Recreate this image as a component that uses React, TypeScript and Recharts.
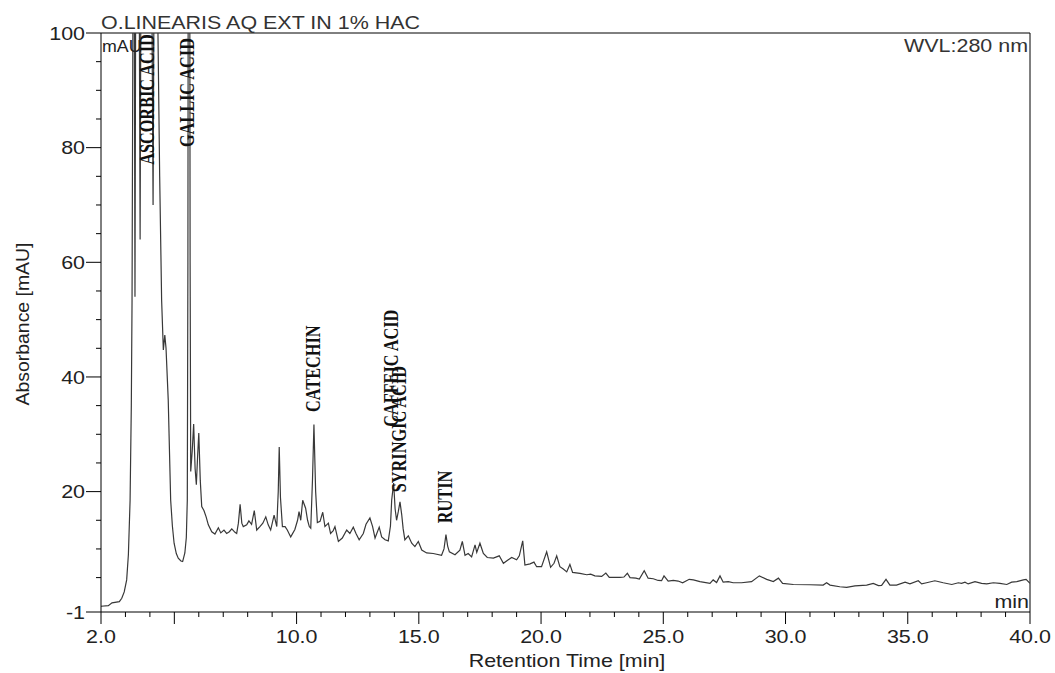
import { ComposedChart, Line, Scatter, XAxis, YAxis, ReferenceLine } from "recharts";

// retention time (min) / absorbance (mAU)
const rtMin = [
  2.0, 2.3, 2.45, 2.75, 2.85, 2.95, 3.05, 3.12, 3.19, 3.24, 3.27, 3.3, 3.33, 3.36, 3.39, 3.42, 3.48, 3.55, 3.6, 3.64,
  3.75, 3.9, 4.02, 4.09, 4.13, 4.17, 4.25, 4.33, 4.4, 4.48, 4.55, 4.61, 4.66, 4.75, 4.85, 4.92, 4.99, 5.08, 5.16, 5.27,
  5.34, 5.43, 5.49, 5.53, 5.555, 5.575, 5.62, 5.645, 5.67, 5.73, 5.79, 5.85, 5.9, 5.95, 6.0, 6.06, 6.12, 6.21, 6.3, 6.39,
  6.53, 6.66, 6.8, 6.9, 7.03, 7.14, 7.25, 7.35, 7.48, 7.55, 7.62, 7.69, 7.76, 7.82, 7.96, 8.05, 8.16, 8.27, 8.37, 8.5,
  8.62, 8.74, 8.84, 8.94, 9.08, 9.19, 9.25, 9.29, 9.34, 9.42, 9.53, 9.62, 9.76, 9.93, 10.04, 10.1, 10.17, 10.25, 10.37, 10.45,
  10.52, 10.58, 10.65, 10.71, 10.78, 10.85, 10.96, 11.07, 11.16, 11.3, 11.39, 11.5, 11.57, 11.71, 11.87, 12.05, 12.18, 12.32, 12.43, 12.56,
  12.73, 12.84, 13.0, 13.11, 13.21, 13.38, 13.48, 13.62, 13.75, 13.84, 13.89, 13.97, 14.03, 14.09, 14.16, 14.23, 14.3, 14.36, 14.43, 14.57,
  14.71, 14.84, 14.98, 15.12, 15.32, 15.59, 15.93, 16.03, 16.11, 16.18, 16.25, 16.48, 16.68, 16.78, 16.89, 17.02, 17.16, 17.3, 17.37, 17.5,
  17.64, 17.8, 18.05, 18.29, 18.46, 18.66, 18.8, 19.0, 19.11, 19.25, 19.34, 19.55, 19.71, 19.82, 20.02, 20.23, 20.39, 20.53, 20.64, 20.77,
  20.91, 21.05, 21.18, 21.29, 21.59, 21.87, 22.03, 22.2, 22.48, 22.65, 22.79, 23.23, 23.39, 23.53, 23.64, 23.88, 24.02, 24.22, 24.38, 24.59,
  24.79, 24.93, 25.03, 25.2, 25.41, 25.61, 25.79, 26.06, 26.23, 26.5, 26.91, 27.04, 27.18, 27.32, 27.45, 27.66, 27.86, 28.2, 28.61, 28.93,
  29.23, 29.5, 29.71, 29.88, 30.32, 31.0, 31.54, 31.68, 31.82, 32.22, 32.5, 32.84, 33.32, 33.59, 33.8, 33.93, 34.11, 34.27, 34.54, 34.89,
  35.09, 35.43, 35.57, 35.77, 36.11, 36.45, 36.8, 37.07, 37.2, 37.34, 37.47, 37.75, 38.02, 38.23, 38.5, 38.77, 39.05, 39.25, 39.46, 39.73,
  39.84, 40.0,
];
const absMau = [
  0.0, 0.1, 0.6, 0.8, 1.4, 2.5, 4.6, 9, 18.5, 35, 53.4, 95, 140, 110, 54, 110, 150, 125, 64, 120,
  165, 160, 130, 100, 70, 110, 130, 100, 75, 53.4, 44.7, 47.3, 45, 36, 18.5, 14, 11, 9.2, 8.4, 7.9,
  7.8, 9.3, 12, 18.5, 60, 150, 150, 60, 23.5, 27, 31.8, 24, 21.2, 26, 30.2, 22, 17.4, 16.7, 15.6, 14.2,
  13.0, 12.6, 13.7, 12.8, 13.3, 12.7, 13.0, 13.5, 12.9, 12.7, 14.5, 17.8, 14.5, 13.9, 14.2, 14.9, 14.3, 16.7, 13.3, 13.9,
  14.5, 15.6, 14.2, 13.3, 15.9, 13.9, 20, 27.8, 19, 13.9, 13.9, 13.3, 12.1, 13.4, 15, 16.5, 15.0, 18.5, 17.1, 15,
  13.9, 13.6, 22, 31.7, 20, 14.6, 14.8, 16.4, 13.9, 14.5, 12.7, 13.2, 13.9, 11.3, 11.9, 13.3, 12.7, 13.8, 12.7, 11.6,
  12.7, 14.3, 15.4, 13.9, 11.9, 13.8, 12.1, 11.6, 11.4, 14, 18.5, 21.5, 17, 15, 16.5, 18.2, 16, 13.5, 11.6, 12.3,
  11.0, 10.4, 11.3, 9.8, 9.3, 9.2, 8.9, 10, 12.5, 10.5, 9.5, 9.0, 9.8, 11.3, 8.9, 9.2, 8.6, 10.7, 9.4, 11.0,
  9.2, 8.5, 8.4, 8.8, 7.5, 8.1, 8.5, 8.1, 8.8, 11.4, 7.2, 7.4, 7.7, 6.9, 6.9, 9.5, 6.8, 7.5, 8.8, 6.9,
  6.5, 6.0, 7.3, 5.9, 5.75, 5.5, 5.6, 5.3, 5.2, 5.8, 5.05, 5.05, 5.1, 5.75, 5.0, 4.9, 4.75, 6.2, 4.9, 4.8,
  4.5, 4.46, 5.3, 4.4, 4.5, 4.4, 4.1, 4.7, 4.6, 4.3, 4.0, 4.6, 4.15, 5.3, 4.2, 4.3, 4.1, 4.1, 4.3, 5.3,
  4.7, 4.3, 4.9, 4.0, 3.8, 3.75, 3.7, 4.1, 3.7, 3.4, 3.3, 3.55, 3.7, 4.0, 3.6, 3.65, 4.7, 3.7, 3.7, 4.2,
  3.9, 4.45, 3.9, 4.1, 4.45, 4.1, 3.8, 4.1, 4.0, 4.2, 3.9, 4.3, 4.0, 3.9, 4.1, 4.0, 3.8, 4.2, 4.3, 4.6,
  4.7, 4.0,
];

// peak annotations: name, retention time, mAU level where the tag starts
const peakNames = ["ASCORBIC ACID", "GALLIC ACID", "CATECHIN", "CAFFEIC ACID", "SYRINGIC ACID", "RUTIN"];
const peakRt = [3.87, 5.48, 10.65, 13.85, 14.18, 16.07];
const peakTagAt = [77, 80.1, 33.9, 31.3, 19.9, 14.5];

const xMajorTicks = [2, 5, 10, 15, 20, 25, 30, 35, 40];
const xLabelTicks = [2, 10, 15, 20, 25, 30, 35, 40];
const xTicks = Array.from({ length: 39 }, (_, i) => i + 2);
const yLabelTicks = [-1, 20, 40, 60, 80, 100];
const yTicks = [-1, 5, 10, 15, 20, 25, 30, 35, 40, 45, 50, 55, 60, 65, 70, 75, 80, 85, 90, 95, 100];

const data = rtMin.map((t, i) => ({ t, v: absMau[i] }));
const tags = peakNames.map((name, i) => ({ t: peakRt[i], at: peakTagAt[i], name }));

const SANS = "'Liberation Sans', Arial, sans-serif";
const SERIF = "'Liberation Serif', 'Times New Roman', serif";
const STRETCH = 1.16;
const INK = "#222";

function XTick({ x, y, payload }: any) {
  const v = payload.value;
  const major = xMajorTicks.includes(v);
  return (
    <g>
      <line x1={x} x2={x} y1={y} y2={y + (major ? 12 : 5)} stroke="#000" />
      {xLabelTicks.includes(v) && (
        <text
          transform={`translate(${x},${y + 31}) scale(${STRETCH},1)`}
          textAnchor="middle"
          fontFamily={SANS}
          fontSize={18.5}
          fill={INK}
        >
          {v.toFixed(1)}
        </text>
      )}
    </g>
  );
}

function YTick({ x, y, payload }: any) {
  const v = payload.value;
  const major = yLabelTicks.includes(v);
  return (
    <g>
      <line x1={x - (major ? 15 : 5)} x2={x} y1={y} y2={y} stroke="#000" />
      {major && (
        <text
          transform={`translate(${x - 16},${y + 6.6}) scale(${STRETCH},1)`}
          textAnchor="end"
          fontFamily={SANS}
          fontSize={18.5}
          fill={INK}
        >
          {v}
        </text>
      )}
    </g>
  );
}

function PeakTag(props: any) {
  const { cx, cy, payload } = props;
  return (
    <text
      transform={`translate(${cx},${cy}) rotate(-90) scale(0.74,1)`}
      x={0}
      y={7.5}
      fontFamily={SERIF}
      fontWeight="bold"
      fontSize={22}
      fill="#111"
    >
      {payload.name}
    </text>
  );
}

export default function App() {
  return (
    <div style={{ position: "absolute", left: 0, top: 0, width: 1055, height: 673, background: "#fff" }}>
      <ComposedChart width={1055} height={673} data={data} margin={{ top: 33, right: 25, bottom: 0, left: 0 }}>
        <XAxis
          dataKey="t"
          type="number"
          domain={[2, 40]}
          allowDataOverflow
          ticks={xTicks}
          interval={0}
          tick={XTick}
          tickLine={false}
          tickSize={0}
          tickMargin={0}
          height={61}
          axisLine={{ stroke: "#000" }}
        />
        <YAxis
          type="number"
          domain={[-1, 100]}
          allowDataOverflow
          ticks={yTicks}
          interval={0}
          tick={YTick}
          tickLine={false}
          tickSize={0}
          tickMargin={0}
          width={101}
          axisLine={{ stroke: "#000" }}
        />
        <ReferenceLine y={100} stroke="#000" />
        <ReferenceLine x={40} stroke="#000" />
        <Line
          dataKey="v"
          type="linear"
          stroke="#383838"
          strokeWidth={1.2}
          dot={false}
          isAnimationActive={false}
        />
        <Scatter data={tags} dataKey="at" shape={PeakTag} isAnimationActive={false} />
      </ComposedChart>
      <svg
        width={1055}
        height={673}
        style={{ position: "absolute", left: 0, top: 0, pointerEvents: "none" }}
      >
        <text transform={`translate(101,29) scale(${STRETCH},1)`} fontFamily={SANS} fontSize={18.5} fill="#333">
          O.LINEARIS AQ EXT IN 1% HAC
        </text>
        <text transform={`translate(102,52) scale(1.08,1)`} fontFamily={SANS} fontSize={16.5} fill={INK}>
          mAU
        </text>
        <text transform={`translate(1028,52) scale(${STRETCH},1)`} textAnchor="end" fontFamily={SANS} fontSize={18.5} fill="#333">
          WVL:280 nm
        </text>
        <text transform={`translate(1029,608) scale(${STRETCH},1)`} textAnchor="end" fontFamily={SANS} fontSize={18.5} fill={INK}>
          min
        </text>
        <text transform="translate(29,324) rotate(-90) scale(1.05,1)" textAnchor="middle" fontFamily={SANS} fontSize={18.5} fill={INK}>
          Absorbance [mAU]
        </text>
        <text transform={`translate(567,667) scale(${STRETCH},1)`} textAnchor="middle" fontFamily={SANS} fontSize={18.5} fill={INK}>
          Retention Time [min]
        </text>
      </svg>
    </div>
  );
}
